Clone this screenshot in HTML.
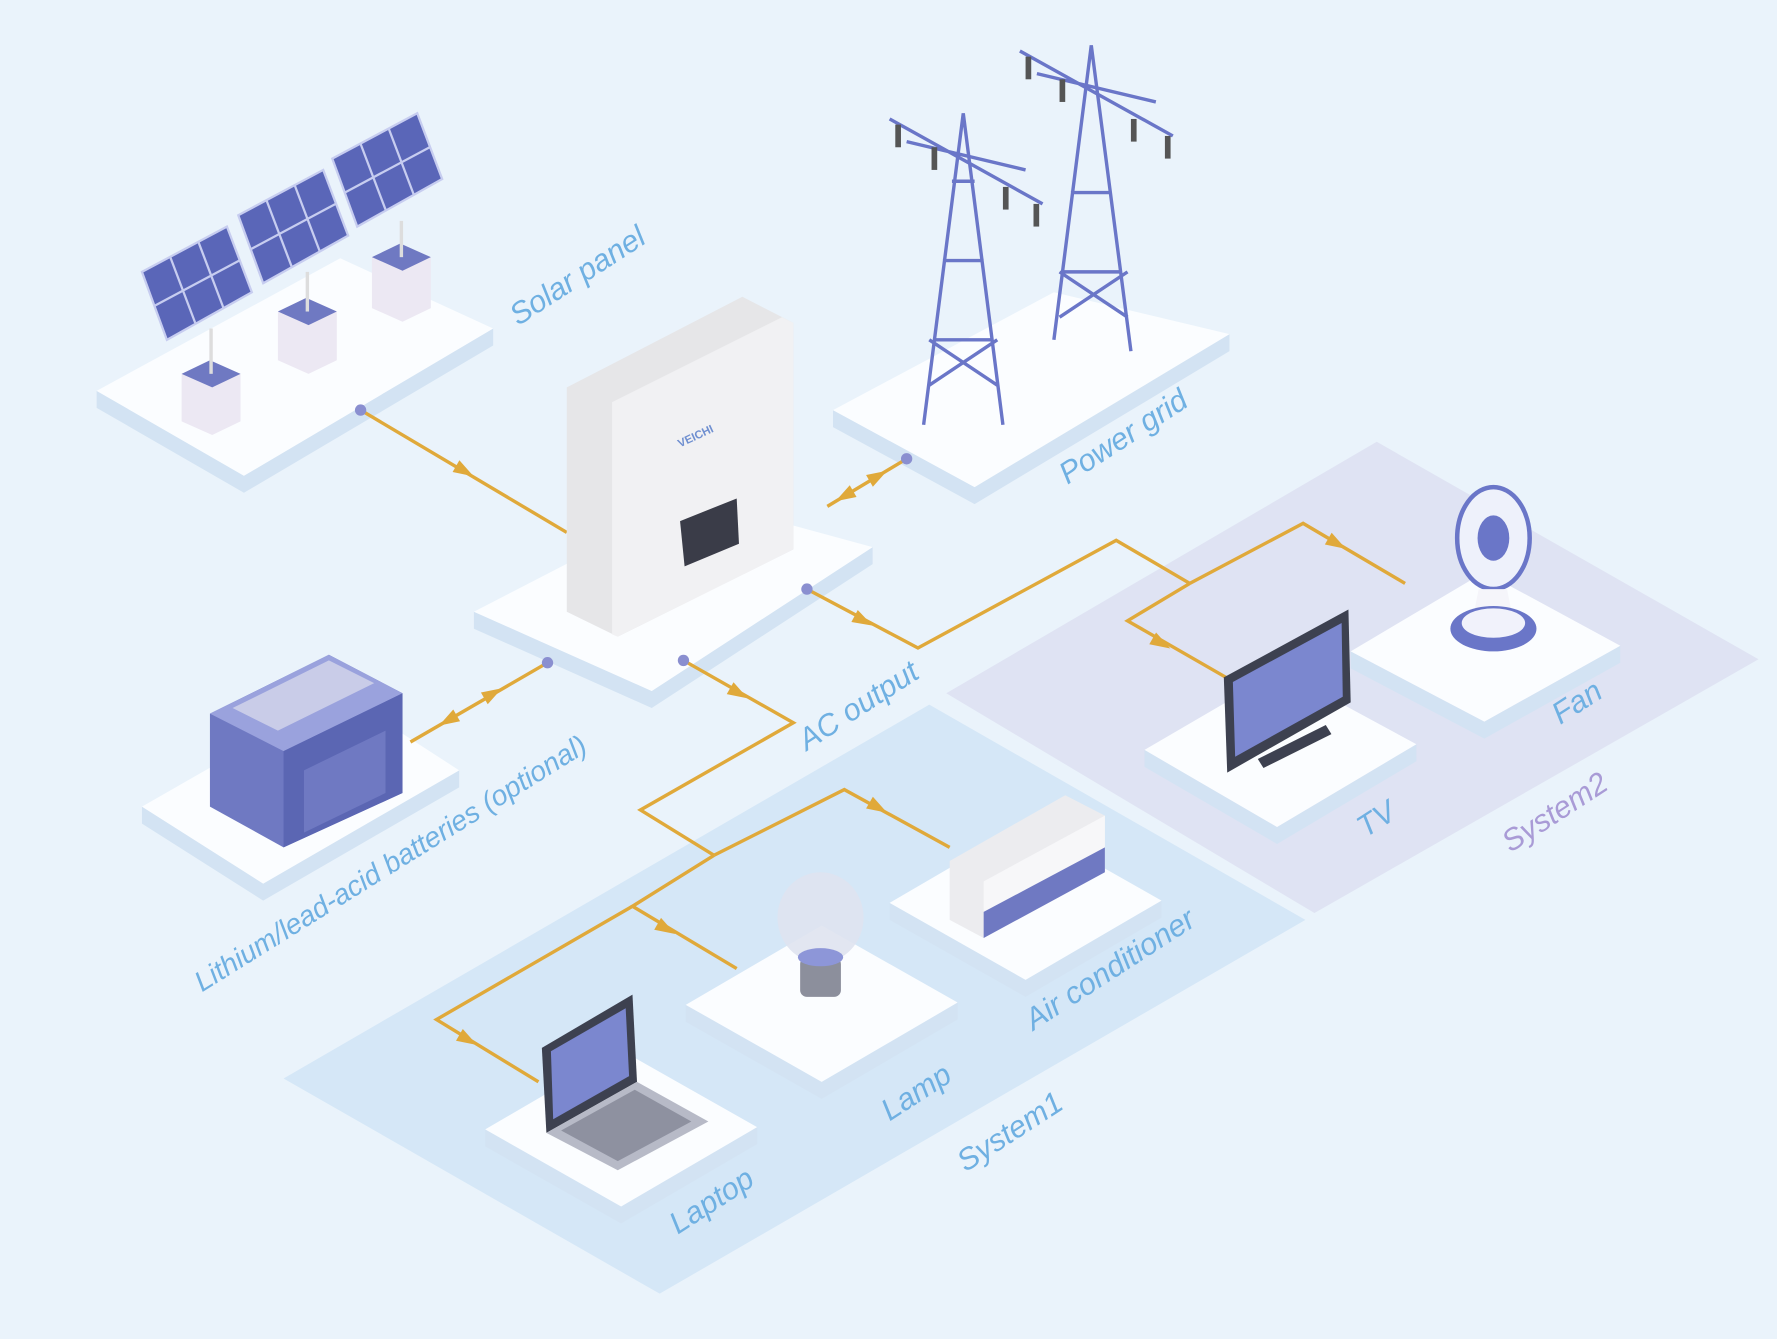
<!DOCTYPE html>
<html><head><meta charset="utf-8"><style>
html,body{margin:0;padding:0;background:#eaf3fb;}
svg{display:block}
text{font-family:"Liberation Sans",sans-serif;font-style:italic;font-size:27px;fill:#6fb0e2;}
</style></head><body>
<svg width="1777" height="1339" viewBox="0 0 1568 1182" xmlns="http://www.w3.org/2000/svg">
<defs>
<g id="ar"><path d="M-9,-6 L9,0 L-9,6 Z" fill="#e0a93a"/></g>
</defs>
<rect width="1568" height="1182" fill="#eaf3fb"/>
<polygon points="835,612 1215,390 1552,582 1160,806" fill="#dfe3f3"/>
<polygon points="250,952 820,622 1152,812 582,1142" fill="#d5e7f7"/>

<g>
<polygon points="85,345 85,360 215,435 435,305 435,290 215,420" fill="#d3e3f3"/>
<polygon points="85,345 300,228 435,290 215,420" fill="#fbfdff"/>
<polygon points="735,362 735,377 860,445 1085,310 1085,295 860,430" fill="#d3e3f3"/>
<polygon points="735,362 930,258 1085,295 860,430" fill="#fbfdff"/>
<polygon points="418,540 418,555 575,625 770,498 770,483 575,610" fill="#d3e3f3"/>
<polygon points="418,540 612,440 770,483 575,610" fill="#fbfdff"/>
<polygon points="125,712 125,727 232,795 405,695 405,680 232,780" fill="#d3e3f3"/>
<polygon points="125,712 300,612 405,680 232,780" fill="#fbfdff"/>
<polygon points="1192,575 1192,590 1310,652 1430,585 1430,570 1310,637" fill="#d3e3f3"/>
<polygon points="1192,575 1310,505 1430,570 1310,637" fill="#fbfdff"/>
<polygon points="1010,662 1010,677 1127,745 1250,672 1250,657 1127,730" fill="#d3e3f3"/>
<polygon points="1010,662 1130,592 1250,657 1127,730" fill="#fbfdff"/>
<polygon points="785,797 785,812 905,880 1025,810 1025,795 905,865" fill="#d3e3f3"/>
<polygon points="785,797 905,727 1025,795 905,865" fill="#fbfdff"/>
<polygon points="605,887 605,902 725,970 845,900 845,885 725,955" fill="#d3e3f3"/>
<polygon points="605,887 725,817 845,885 725,955" fill="#fbfdff"/>
<polygon points="428,997 428,1012 548,1080 668,1010 668,995 548,1065" fill="#d3e3f3"/>
<polygon points="428,997 548,927 668,995 548,1065" fill="#fbfdff"/>
</g>

<g fill="none" stroke="#e0a93a" stroke-width="3">
<polyline points="318,362 500,470"/>
<polyline points="800,405 730,447"/>
<polyline points="483,585 362,655"/>
<polyline points="712,520 810,572 985,477 1050,515"/>
<polyline points="1050,515 995,548 1082,598"/>
<polyline points="1050,515 1150,462 1240,515"/>
<polyline points="603,583 700,638 565,715 630,755"/>
<polyline points="630,755 745,697 838,748"/>
<polyline points="630,755 558,800 650,855"/>
<polyline points="558,800 385,900 475,955"/>
</g>
<g>
<use href="#ar" transform="translate(410,416) rotate(30)"/>
<use href="#ar" transform="translate(775,420) rotate(-30)"/>
<use href="#ar" transform="translate(745,438) rotate(150)"/>
<use href="#ar" transform="translate(435,612) rotate(-30)"/>
<use href="#ar" transform="translate(395,636) rotate(150)"/>
<use href="#ar" transform="translate(762,548) rotate(28)"/>
<use href="#ar" transform="translate(1025,568) rotate(30)"/>
<use href="#ar" transform="translate(1180,480) rotate(30)"/>
<use href="#ar" transform="translate(652,612) rotate(30)"/>
<use href="#ar" transform="translate(775,713) rotate(30)"/>
<use href="#ar" transform="translate(588,820) rotate(30)"/>
<use href="#ar" transform="translate(413,918) rotate(30)"/>
</g>
<g fill="#8a8fd0">
<circle cx="318" cy="362" r="5"/><circle cx="800" cy="405" r="5"/><circle cx="483" cy="585" r="5"/><circle cx="712" cy="520" r="5"/><circle cx="603" cy="583" r="5"/>
</g>

<!-- solar panels -->
<g>
<polygon points="160,330 185,318 212,330 212,372 187,384 160,372" fill="#ece8f3"/>
<polygon points="160,330 185,318 212,330 187,342" fill="#6f79c2"/>
<line x1="186" y1="330" x2="186" y2="290" stroke="#ddd" stroke-width="3"/>
<polygon points="125,240 200,200 222,258 147,300" fill="#5a66b8" stroke="#c7cdf0" stroke-width="2"/>
<path d="M150,227 L172,285 M175,214 L197,272 M136,270 L211,230" stroke="#c7cdf0" stroke-width="2"/>
<polygon points="245,275 270,263 297,275 297,318 272,330 245,318" fill="#ece8f3"/>
<polygon points="245,275 270,263 297,275 272,287" fill="#6f79c2"/>
<line x1="271" y1="275" x2="271" y2="240" stroke="#ddd" stroke-width="3"/>
<polygon points="210,190 285,150 307,208 232,250" fill="#5a66b8" stroke="#c7cdf0" stroke-width="2"/>
<path d="M235,177 L257,235 M260,164 L282,222 M221,220 L296,180" stroke="#c7cdf0" stroke-width="2"/>
<polygon points="328,227 353,215 380,227 380,272 355,284 328,272" fill="#ece8f3"/>
<polygon points="328,227 353,215 380,227 355,239" fill="#6f79c2"/>
<line x1="354" y1="227" x2="354" y2="195" stroke="#ddd" stroke-width="3"/>
<polygon points="293,140 368,100 390,158 315,200" fill="#5a66b8" stroke="#c7cdf0" stroke-width="2"/>
<path d="M318,127 L340,185 M343,114 L365,172 M304,170 L379,130" stroke="#c7cdf0" stroke-width="2"/>
</g>

<!-- inverter -->
<polygon points="500,342 655,262 700,285 700,485 545,562 500,540" fill="#e6e6e8"/>
<polygon points="540,355 690,280 700,285 700,485 545,562 540,560" fill="#f1f1f3"/>
<polygon points="600,460 650,440 652,480 604,500" fill="#3a3c48"/>
<text x="600" y="395" transform="rotate(-25 600 395)" style="font-size:10px;fill:#6f8fd0;font-weight:bold;font-style:normal">VEICHI</text>

<!-- towers -->
<g stroke="#6a76c8" stroke-width="3" fill="none">
<path d="M815,375 L850,100 L885,375 M825,300 L875,300 M832,230 L868,230 M840,160 L860,160 M820,340 L880,300 M880,340 L820,300"/>
<path d="M785,105 L920,180 M800,125 L905,150"/>
<path d="M930,300 L963,40 L998,310 M938,240 L990,240 M945,170 L980,170 M935,280 L995,240 M995,280 L935,240"/>
<path d="M900,45 L1035,120 M915,65 L1020,90"/>
</g>
<g fill="#555">
<rect x="790" y="110" width="5" height="20"/><rect x="822" y="130" width="5" height="20"/><rect x="885" y="165" width="5" height="20"/><rect x="912" y="180" width="5" height="20"/>
<rect x="905" y="50" width="5" height="20"/><rect x="935" y="70" width="5" height="20"/><rect x="998" y="105" width="5" height="20"/><rect x="1028" y="120" width="5" height="20"/>
</g>

<!-- battery -->
<polygon points="185,630 290,578 355,612 355,700 250,748 185,712" fill="#6f79c2"/>
<polygon points="185,630 290,578 355,612 250,663" fill="#9aa2dd"/>
<polygon points="250,663 355,612 355,700 250,748" fill="#5b66b3"/>
<polygon points="268,680 340,645 340,700 268,735" fill="#6f79c2"/>
<polygon points="205,625 290,583 330,603 245,645" fill="#c9cce8"/>

<!-- TV -->
<polygon points="1080,598 1190,538 1192,620 1083,682" fill="#3d4150"/>
<polygon points="1088,602 1184,550 1185,615 1090,668" fill="#7b87cf"/>
<polygon points="1110,670 1170,640 1175,648 1115,678" fill="#3d4150"/>

<!-- fan -->
<ellipse cx="1318" cy="475" rx="32" ry="45" fill="#eef1fb" stroke="#6a76c8" stroke-width="4"/>
<ellipse cx="1318" cy="475" rx="14" ry="20" fill="#6a76c8"/>
<polygon points="1305,520 1330,520 1335,545 1300,545" fill="#f5f5fa"/>
<ellipse cx="1318" cy="555" rx="38" ry="20" fill="#6a76c8"/>
<ellipse cx="1318" cy="550" rx="28" ry="13" fill="#f1f2fb"/>

<!-- AC unit -->
<polygon points="838,760 940,702 975,720 975,770 868,828 838,812" fill="#ececef"/>
<polygon points="868,778 975,720 975,770 868,828" fill="#f7f7f9"/>
<polygon points="868,805 975,748 975,770 868,828" fill="#6f79c2"/>

<!-- lamp -->
<ellipse cx="724" cy="810" rx="38" ry="40" fill="#dfe3ef" opacity="0.9"/>
<rect x="706" y="845" width="36" height="35" rx="6" fill="#8c8f9c"/>
<ellipse cx="724" cy="845" rx="20" ry="8" fill="#8d96d8"/>

<!-- laptop -->
<polygon points="478,925 558,878 562,955 482,1000" fill="#3d4150"/>
<polygon points="486,928 552,890 555,950 488,988" fill="#7b87cf"/>
<polygon points="482,1000 562,955 625,990 545,1033" fill="#b7bac7"/>
<polygon points="495,998 560,962 610,990 545,1025" fill="#8e91a0"/>

<!-- labels -->
<text transform="translate(457,288) rotate(-33)">Solar panel</text>
<text transform="translate(942,428) rotate(-33)">Power grid</text>
<text transform="translate(712,663) rotate(-33)">AC output</text>
<text transform="translate(178,876) rotate(-32)" style="font-size:25px">Lithium/lead-acid batteries (optional)</text>
<text transform="translate(1377,640) rotate(-33)">Fan</text>
<text transform="translate(1205,740) rotate(-33)">TV</text>
<text transform="translate(1333,753) rotate(-33)" style="fill:#a99bd6">System2</text>
<text transform="translate(912,910) rotate(-33)">Air conditioner</text>
<text transform="translate(785,990) rotate(-33)">Lamp</text>
<text transform="translate(852,1035) rotate(-33)">System1</text>
<text transform="translate(598,1090) rotate(-33)">Laptop</text>
</svg>
</body></html>
